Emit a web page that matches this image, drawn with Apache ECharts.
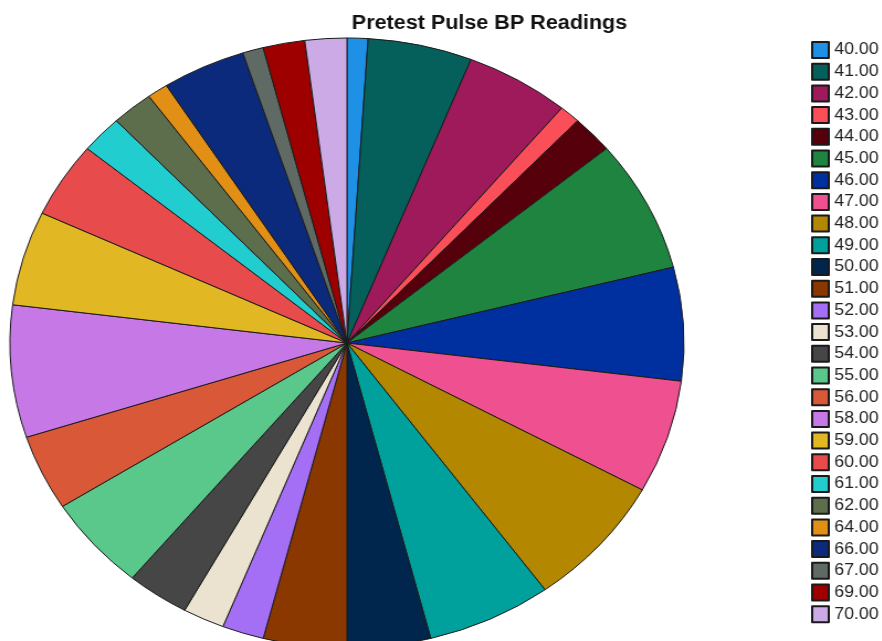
<!DOCTYPE html>
<html>
<head>
<meta charset="utf-8">
<script src="https://cdn.jsdelivr.net/npm/echarts@6/dist/echarts.min.js"></script>
<style>
  html, body { margin: 0; padding: 0; background: #fff; overflow: hidden; }
  #chart {
    width: 820px;
    height: 641px;
    transform: scaleX(1.105);
    transform-origin: 0 0;
  }
</style>
</head>
<body>
<div id="chart"></div>
<script>
// Pulse BP readings and how many subjects had each one
const readings = ['40.00','41.00','42.00','43.00','44.00','45.00','46.00','47.00','48.00',
  '49.00','50.00','51.00','52.00','53.00','54.00','55.00','56.00','58.00','59.00','60.00',
  '61.00','62.00','64.00','66.00','67.00','69.00','70.00'];
const counts = [1, 5, 5, 1, 2, 7, 6, 6, 7, 6, 4, 4, 2, 2, 3, 5, 4, 7, 5, 4, 2, 2, 1, 4, 1, 2, 2];

// Slice palette, one colour per reading
const palette = ['#1e90e6','#05605c','#9e1a5a','#fa4f58','#55000a','#1f8440','#0030a0',
  '#ee5090','#b38700','#00a19c','#00264d','#8a3800','#a46ef5','#ebe3cf','#464646',
  '#5ac78b','#d85838','#c679e6','#e1b723','#e84b4b','#22cdd0','#5c6e4c','#e29015',
  '#0c2a7c','#5f6a64','#9e0000','#cbaae6'];

const chart = echarts.init(document.getElementById('chart'), null, { renderer: 'canvas' });

chart.setOption({
  animation: false,
  color: palette,
  title: {
    text: 'Pretest Pulse BP Readings',
    left: 438,
    top: 9,
    textAlign: 'center',
    textStyle: {
      fontFamily: 'Liberation Sans, Arial, sans-serif',
      fontSize: 19.5,
      fontWeight: 'bold',
      color: '#111'
    }
  },
  legend: {
    orient: 'vertical',
    left: 729,
    top: 36,
    icon: 'rect',
    itemWidth: 15,
    itemHeight: 16,
    itemGap: 3.7,
    selectedMode: false,
    data: readings,
    textStyle: {
      fontFamily: 'Liberation Sans, Arial, sans-serif',
      fontSize: 16,
      lineHeight: 16,
      color: '#222'
    }
  },
  series: [{
    type: 'pie',
    center: [314, 343],
    radius: 305,
    startAngle: 90,
    clockwise: true,
    avoidLabelOverlap: false,
    silent: true,
    label: { show: false },
    labelLine: { show: false },
    itemStyle: { borderColor: '#1a1a1a', borderWidth: 1 },
    data: readings.map((r, i) => ({ name: r, value: counts[i] }))
  }]
});
</script>
</body>
</html>
